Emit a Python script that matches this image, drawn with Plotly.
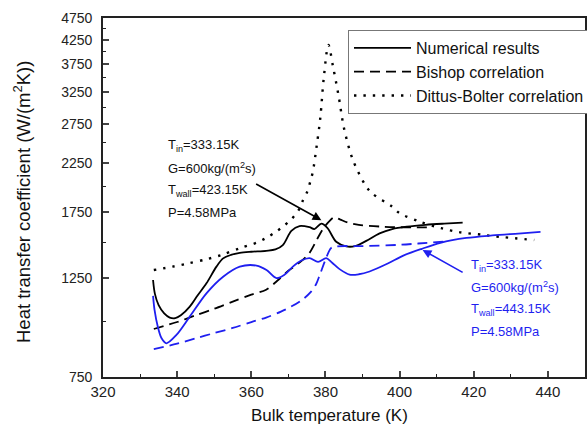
import math
import plotly.graph_objects as go

# ---------------- data ----------------
num423_x = [333.5, 334.0, 335.0, 336.5, 338.0, 339.5, 341.0, 343.4, 345.5, 347.9, 350.6, 352.4, 354.5,
            356.9, 360.0, 364.0, 366.5, 368.5, 370.8, 373.0, 375.7, 377.0, 378.9, 380.5, 382.9, 385.6,
            388.0, 391.0, 394.6, 398.0, 402.0, 407.0, 412.0, 417.0]
num423_y = [1235, 1150, 1085, 1040, 1018, 1015, 1030, 1077, 1140, 1214, 1323, 1380, 1405,
            1420, 1428, 1435, 1445, 1478, 1590, 1630, 1620, 1605, 1650, 1615, 1503, 1468,
            1470, 1510, 1570, 1605, 1625, 1640, 1650, 1658]

num443_x = [333.5, 333.9, 334.8, 335.8, 337.1, 339.8, 343.4, 347.9, 352.4, 356.9, 361.4, 364.1, 366.8,
            369.0, 371.2, 373.5, 375.7, 378.0, 380.2, 381.8, 383.8, 386.5, 389.0, 391.9, 396.8, 401.0,
            406.0, 411.0, 418.0, 425.0, 432.0, 438.0]
num443_y = [1138, 1059, 970, 915, 892, 931, 1023, 1153, 1256, 1323, 1330, 1300, 1247,
            1270, 1323, 1365, 1382, 1355, 1382, 1350, 1306, 1270, 1272, 1290, 1344, 1400,
            1450, 1495, 1533, 1553, 1568, 1581]

bishop423_x = [333.7, 340.0, 345.0, 350.0, 355.0, 360.0, 364.0, 367.0, 370.0, 373.0, 375.7, 377.5,
               379.2, 381.0, 382.4, 384.0, 386.0, 389.0, 395.0, 400.0, 408.0]
bishop423_y = [960, 995, 1030, 1065, 1105, 1145, 1175, 1230, 1295, 1350, 1420, 1510,
               1600, 1670, 1705, 1685, 1660, 1640, 1625, 1620, 1618]

bishop443_x = [333.7, 340.0, 345.0, 350.0, 355.0, 360.0, 364.0, 368.0, 371.0, 374.0, 376.0, 377.5,
               378.5, 380.0, 381.5, 383.0, 390.0, 400.0, 405.0, 412.0]
bishop443_y = [866, 890, 915, 940, 965, 995, 1018, 1050, 1080, 1120, 1160, 1210,
               1270, 1370, 1455, 1468, 1470, 1480, 1490, 1505]

dittus_x = [333.7, 338.8, 343.0, 347.9, 352.0, 356.9, 361.5, 363.9, 366.3, 368.5, 370.8, 372.8, 373.9,
            375.1, 375.9, 376.6, 377.6, 378.6, 379.6, 380.8, 382.0, 383.6, 385.0, 387.4, 391.0, 392.8,
            398.0, 400.0, 405.3, 411.2, 416.0, 422.4, 427.7, 436.3]
dittus_y = [1300, 1323, 1345, 1374, 1405, 1454, 1497, 1531, 1576, 1625, 1688, 1771, 1858,
            1945, 2048, 2156, 2450, 2838, 3528, 4137, 3715, 3163, 2696, 2290, 1996, 1922,
            1801, 1741, 1668, 1612, 1580, 1558, 1540, 1517]

y_ticks = [750, 1250, 1750, 2250, 2750, 3250, 3750, 4250, 4750]
y_minor = [1000, 1500, 2000, 2500, 3000, 3500, 4000, 4500]
x_ticks = [320, 340, 360, 380, 400, 420, 440]
x_minor = [330, 350, 370, 390, 410, 430]

labels_423 = ["T<sub>in</sub>=333.15K", "G=600kg/(m<sup>2</sup>s)", "T<sub>wall</sub>=423.15K", "P=4.58MPa"]
labels_443 = ["T<sub>in</sub>=333.15K", "G=600kg/(m<sup>2</sup>s)", "T<sub>wall</sub>=443.15K", "P=4.58MPa"]

# arrow endpoints (data coords): tail and head
arrow423 = dict(tail=(360.9, 2031), head=(378.9, 1680))
arrow443 = dict(tail=(417.4, 1279), head=(406.2, 1441))

BLUE = "#1f1ff0"
FONT = "Liberation Sans, Arial, sans-serif"

fig = go.Figure()

def add(x, y, color, dash, name, show, group):
    fig.add_trace(go.Scatter(
        x=x, y=y, mode="lines", name=name, showlegend=show, legendgroup=group,
        line=dict(color=color, width=1.8 if dash != "dot" else 2.4, dash=(
            "solid" if dash == "solid" else ("10px,6px" if dash == "dash" else "2.4px,7px")),
            shape="spline", smoothing=0.9),
    ))

add(num423_x, num423_y, "black", "solid", "Numerical results", True, "g1")
add(bishop423_x, bishop423_y, "black", "dash", "Bishop correlation", True, "g2")
add(dittus_x, dittus_y, "black", "dot", "Dittus-Bolter correlation", True, "g3")
add(num443_x, num443_y, BLUE, "solid", "Numerical results 443", False, "g1")
add(bishop443_x, bishop443_y, BLUE, "dash", "Bishop 443", False, "g2")

# plot area pixel geometry (for text placement)
L, R, T, B = 103, 585, 18, 377
def px(xp):
    return (xp - L) / (R - L)
def py(yp):
    return (B - yp) / (B - T)

ann = []
for i, t in enumerate(labels_423):
    ann.append(dict(text=t, x=px(166), y=py(145 + i * 22.5), xref="paper", yref="paper",
                    xanchor="left", yanchor="middle", showarrow=False,
                    font=dict(size=13, color="#111", family=FONT)))
for i, t in enumerate(labels_443):
    ann.append(dict(text=t, x=px(469), y=py(265 + i * 22.3), xref="paper", yref="paper",
                    xanchor="left", yanchor="middle", showarrow=False,
                    font=dict(size=13, color=BLUE, family=FONT)))

for a, col in ((arrow423, "black"), (arrow443, BLUE)):
    ann.append(dict(text="", x=a["head"][0], y=math.log10(a["head"][1]), xref="x", yref="y",
                    ax=a["tail"][0], ay=math.log10(a["tail"][1]), axref="x", ayref="y",
                    showarrow=True, arrowhead=2, arrowsize=1.1, arrowwidth=1.6, arrowcolor=col))

# axis titles as paper annotations for exact placement
ann.append(dict(text="Bulk temperature (K)", x=px(329), y=py(415), xref="paper", yref="paper",
                xanchor="center", yanchor="middle", showarrow=False,
                font=dict(size=17, color="#111", family=FONT)))
ann.append(dict(text="Heat transfer coefficient (W/(m<sup>2</sup>K))", x=px(22), y=py(202),
                xref="paper", yref="paper", xanchor="center", yanchor="middle", showarrow=False,
                textangle=-90, font=dict(size=18.5, color="#111", family=FONT)))

fig.update_layout(
    width=587, height=432,
    margin=dict(l=L, r=587 - R, t=T, b=432 - B, autoexpand=False),
    paper_bgcolor="white", plot_bgcolor="white",
    font=dict(family=FONT, size=13, color="#222"),
    showlegend=True,
    legend=dict(x=px(348), y=py(30), xanchor="left", yanchor="top",
                bordercolor="#777", borderwidth=1, bgcolor="white",
                font=dict(size=16, color="#111", family=FONT),
                tracegroupgap=0, itemwidth=57),
    annotations=ann,
)

fig.update_xaxes(
    range=[320, 450], tickvals=x_ticks, ticks="inside", ticklen=6, tickwidth=1.5,
    showline=True, linewidth=1.8, linecolor="#222", mirror=True, showgrid=False, zeroline=False,
    tickfont=dict(size=15, color="#222"), automargin=False,
    minor=dict(tickvals=x_minor, ticks="inside", ticklen=3, tickwidth=1.2, tickcolor="#222"),
)
fig.update_yaxes(
    type="log", range=[math.log10(750), math.log10(4750)], tickvals=y_ticks,
    ticktext=[str(v) for v in y_ticks],
    ticks="inside", ticklen=6, tickwidth=1.5, ticklabelstandoff=6,
    showline=True, linewidth=1.8, linecolor="#222", mirror=True, showgrid=False, zeroline=False,
    tickfont=dict(size=14, color="#222"), automargin=False,
    minor=dict(tickvals=y_minor, ticks="inside", ticklen=3, tickwidth=1.2, tickcolor="#222"),
)

fig.write_html("out.html", config={"displayModeBar": False},
               post_script="document.body.style.margin='0';")
